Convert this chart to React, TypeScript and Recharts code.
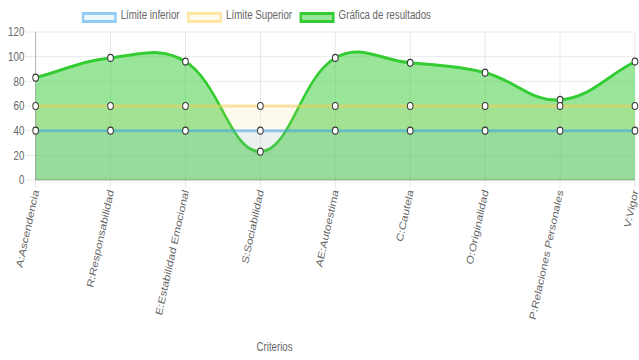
import React from 'react';
import { AreaChart, Area, XAxis, YAxis, CartesianGrid } from 'recharts';

const criterios = [
  'A:Ascendencia',
  'R:Responsabilidad',
  'E:Estabilidad Emocional',
  'S:Sociabilidad',
  'AE:Autoestima',
  'C:Cautela',
  'O:Originalidad',
  'P:Relaciones Personales',
  'V:Vigor',
];
const limiteInferior = [40, 40, 40, 40, 40, 40, 40, 40, 40];
const limiteSuperior = [60, 60, 60, 60, 60, 60, 60, 60, 60];
const resultados = [83, 99, 96, 23, 99, 95, 87, 65, 96];
const yTicks = [0, 20, 40, 60, 80, 100, 120];

const data = criterios.map((criterio, i) => ({
  criterio,
  inferior: limiteInferior[i],
  superior: limiteSuperior[i],
  resultados: resultados[i],
}));

// legend order; drawing order is reversed so the limits sit on top
const series = [
  { key: 'inferior', name: 'Límite inferior', stroke: 'rgba(54,162,235,0.5)', fill: 'rgba(54,162,235,0.1)' },
  { key: 'superior', name: 'Límite Superior', stroke: 'rgba(255,205,86,0.5)', fill: 'rgba(255,205,86,0.1)' },
  { key: 'resultados', name: 'Gráfica de resultados', stroke: 'rgb(51,204,51)', fill: 'rgba(51,204,51,0.5)' },
];

const FONT = "'Liberation Sans', Arial, sans-serif";
const INNER_W = 789;
const SCALE_X = 639 / INNER_W;
const TENSION = 0.4;

// cubic spline like chart.js (tension 0.4), written as a d3 curve factory
function splineCurve(context: any) {
  let line = NaN;
  let pts: number[][] = [];
  return {
    areaStart() {
      line = 0;
    },
    areaEnd() {
      line = NaN;
    },
    lineStart() {
      pts = [];
    },
    point(x: number, y: number) {
      pts.push([+x, +y]);
    },
    lineEnd() {
      const n = pts.length;
      if (n > 0) {
        if (line) context.lineTo(pts[0][0], pts[0][1]);
        else context.moveTo(pts[0][0], pts[0][1]);
        const cps = pts.map((cur, i) => {
          const prev = pts[Math.max(i - 1, 0)];
          const next = pts[Math.min(i + 1, n - 1)];
          const d01 = Math.hypot(cur[0] - prev[0], cur[1] - prev[1]);
          const d12 = Math.hypot(next[0] - cur[0], next[1] - cur[1]);
          let s01 = d01 / (d01 + d12);
          let s12 = d12 / (d01 + d12);
          if (!isFinite(s01)) s01 = 0;
          if (!isFinite(s12)) s12 = 0;
          const fa = TENSION * s01;
          const fb = TENSION * s12;
          return {
            px: cur[0] - fa * (next[0] - prev[0]),
            py: cur[1] - fa * (next[1] - prev[1]),
            nx: cur[0] + fb * (next[0] - prev[0]),
            ny: cur[1] + fb * (next[1] - prev[1]),
          };
        });
        for (let i = 1; i < n; i++) {
          context.bezierCurveTo(cps[i - 1].nx, cps[i - 1].ny, cps[i].px, cps[i].py, pts[i][0], pts[i][1]);
        }
      }
      if (line || (line !== 0 && n === 1)) context.closePath();
      line = 1 - line;
    },
  };
}

const RotatedTick = (props: any) => {
  const { x, y, payload } = props;
  return (
    <text
      x={x}
      y={y}
      transform={`rotate(-75, ${x}, ${y})`}
      textAnchor="end"
      dominantBaseline="central"
      fill="#666"
      fontSize={12}
      fontFamily={FONT}
    >
      {payload.value}
    </text>
  );
};

const AxisTitle = () => (
  <text x={339} y={351} textAnchor="middle" fill="#666" fontSize={12} fontFamily={FONT}>
    Criterios
  </text>
);

const LegendRow = () => (
  <div
    style={{
      position: 'absolute',
      top: 9,
      left: 101,
      display: 'flex',
      alignItems: 'flex-start',
      fontFamily: FONT,
      fontSize: 12,
      lineHeight: '12px',
      color: '#666',
      whiteSpace: 'nowrap',
    }}
  >
    {series.map((s) => (
      <div key={s.key} style={{ display: 'flex', alignItems: 'flex-start', marginRight: 9.5 }}>
        <span
          style={{
            display: 'inline-block',
            boxSizing: 'border-box',
            width: 43,
            height: 11,
            marginTop: 3,
            marginRight: 5,
            border: `3px solid ${s.stroke}`,
            background: s.fill,
          }}
        />
        <span>{s.name}</span>
      </div>
    ))}
  </div>
);

export default function App() {
  return (
    <div style={{ position: 'absolute', left: 0, top: 0, width: 639, height: 360, overflow: 'hidden', background: '#fff' }}>
      <div style={{ position: 'relative', width: INNER_W, height: 360, transform: `scaleX(${SCALE_X})`, transformOrigin: '0 0' }}>
        <AreaChart width={INNER_W} height={360} data={data} margin={{ top: 32, right: 5, bottom: 0, left: 0 }}>
          <CartesianGrid stroke="rgba(0,0,0,0.1)" />
          <XAxis
            dataKey="criterio"
            interval={0}
            height={180}
            tickSize={8}
            tickMargin={2}
            tick={<RotatedTick />}
            axisLine={{ stroke: 'rgba(0,0,0,0.25)' }}
            tickLine={{ stroke: 'rgba(0,0,0,0.1)' }}
            label={<AxisTitle />}
          />
          <YAxis
            domain={[0, 120]}
            ticks={yTicks}
            width={44}
            tickSize={12}
            tickMargin={2}
            axisLine={{ stroke: 'rgba(0,0,0,0.25)' }}
            tickLine={{ stroke: 'rgba(0,0,0,0.1)' }}
            tick={{ fill: '#666', fontSize: 12, fontFamily: FONT }}
          />
          {[...series].reverse().map((s) => (
            <Area
              key={s.key}
              dataKey={s.key}
              name={s.name}
              type={splineCurve as any}
              stroke={s.stroke}
              strokeWidth={3}
              fill={s.fill}
              fillOpacity={1}
              dot={{ r: 3.5, fill: '#fff', stroke: '#333', strokeWidth: 1.2 }}
              activeDot={false}
              isAnimationActive={false}
            />
          ))}
        </AreaChart>
        <LegendRow />
      </div>
    </div>
  );
}
